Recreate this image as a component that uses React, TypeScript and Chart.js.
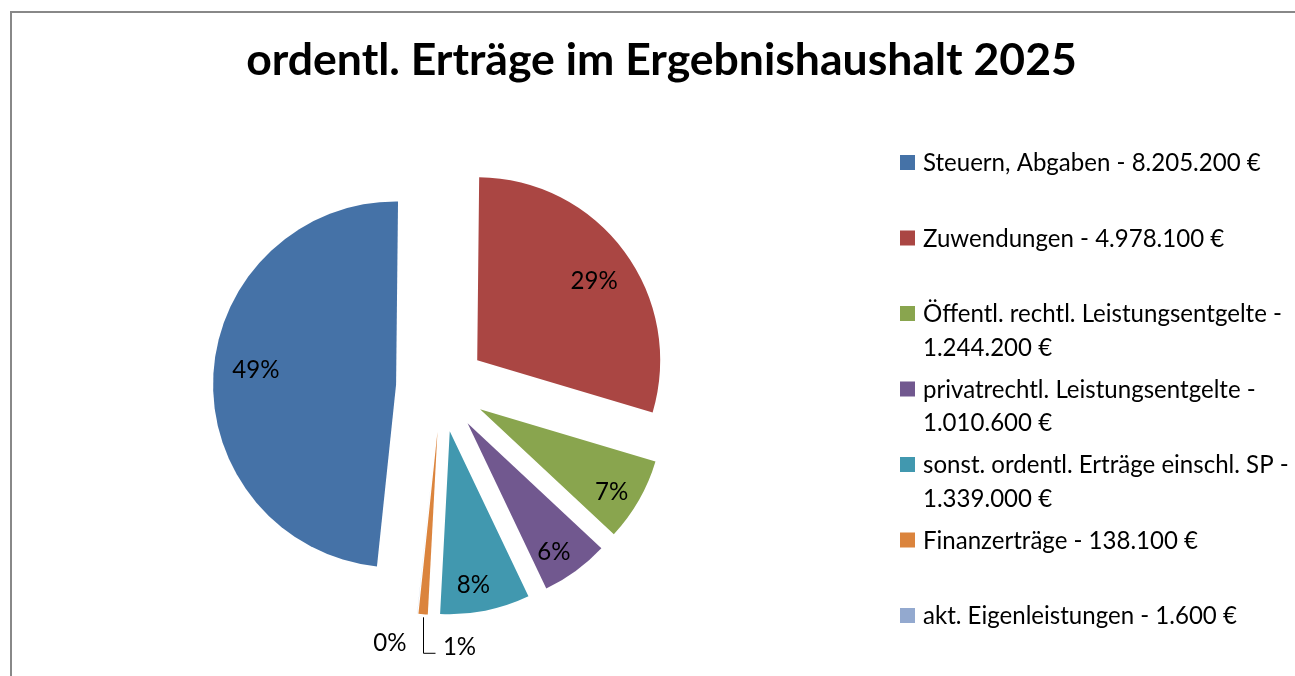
import React, { useEffect, useRef } from 'react';
import { Chart, registerables } from 'chart.js';

Chart.register(...registerables);

// ---------- data ----------
const TITLE = 'ordentl. Erträge im Ergebnishaushalt 2025';
const categories = [
  'Steuern, Abgaben',
  'Zuwendungen',
  'Öffentl. rechtl. Leistungsentgelte',
  'privatrechtl. Leistungsentgelte',
  'sonst. ordentl. Erträge einschl. SP',
  'Finanzerträge',
  'akt. Eigenleistungen',
];
const amounts = [8205200, 4978100, 1244200, 1010600, 1339000, 138100, 1600];
const colors = ['#4572A7', '#AA4643', '#89A54E', '#71588F', '#4198AF', '#DB843D', '#93A9CF'];

// ---------- style / layout ----------
const W = 1295;
const H = 676;
const FONT = 'Lato, "Open Sans", "Liberation Sans", sans-serif';
const RADIUS = 183;
const EXPLODE = 45;
const FIRST_SLICE_ANGLE = 186;
const LABEL_ROT = (2.5 * Math.PI) / 180;
const TITLE_X = 661.5;
const TITLE_BASE = 75;
const TITLE_WIDTH = 831;
const LEGEND_SWATCH_X = 900;
const LEGEND_TEXT_X = 923;
const LEGEND_FIRST_BASE = 171;
const LEGEND_PITCH = 75.5;
const LEGEND_LINE = 33.5;
const LEGEND_WRAP = 380;
const LEGEND_REF_WIDTH = 338;
// labels placed outside their slice (relative to the slice's outer midpoint)
const outsideLabels: Record<number, { dx: number; dy: number; align: CanvasTextAlign; leader?: boolean }> = {
  5: { dx: 20, dy: 30, align: 'left', leader: true },
  6: { dx: -27, dy: 26, align: 'center' },
};

function fmtEuro(v: number): string {
  return String(v).replace(/\B(?=(\d{3})+(?!\d))/g, '.') + ' €';
}

function fitSize(ctx: CanvasRenderingContext2D, text: string, weight: string, target: number): number {
  ctx.save();
  ctx.font = `${weight} 100px ${FONT}`;
  const w = ctx.measureText(text).width;
  ctx.restore();
  return (100 * target) / w;
}

const explodePlugin = {
  id: 'explodePie',
  beforeDatasetDraw(chart: any, args: any) {
    const ctx = chart.ctx as CanvasRenderingContext2D;
    const meta = args.meta;
    meta.data.forEach((arc: any) => {
      const { startAngle, endAngle } = arc.getProps(['startAngle', 'endAngle'], true);
      const mid = (startAngle + endAngle) / 2;
      ctx.save();
      ctx.translate(Math.cos(mid) * EXPLODE, Math.sin(mid) * EXPLODE);
      arc.draw(ctx);
      ctx.restore();
    });
    return false;
  },
};

const decorPlugin = {
  id: 'decor',
  afterDraw(chart: any) {
    const ctx = chart.ctx as CanvasRenderingContext2D;
    const meta = chart.getDatasetMeta(0);
    const values: number[] = chart.data.datasets[0].data;
    const total = values.reduce((a, b) => a + b, 0);
    const legendSize = fitSize(ctx, `${categories[0]} - ${fmtEuro(amounts[0])}`, '400', LEGEND_REF_WIDTH);

    // title
    ctx.save();
    const titleSize = fitSize(ctx, TITLE, '700', TITLE_WIDTH);
    ctx.font = `700 ${titleSize}px ${FONT}`;
    ctx.fillStyle = '#000';
    ctx.textAlign = 'center';
    ctx.textBaseline = 'alphabetic';
    ctx.fillText(TITLE, TITLE_X, TITLE_BASE);
    ctx.restore();

    // data labels
    ctx.save();
    ctx.font = `400 ${legendSize}px ${FONT}`;
    ctx.fillStyle = '#000';
    ctx.strokeStyle = '#000';
    ctx.lineWidth = 1;
    ctx.textBaseline = 'middle';
    meta.data.forEach((arc: any, i: number) => {
      const { x, y, startAngle, endAngle, outerRadius } = arc.getProps(
        ['x', 'y', 'startAngle', 'endAngle', 'outerRadius'],
        true
      );
      const mid = (startAngle + endAngle) / 2;
      const cx = x + Math.cos(mid) * EXPLODE;
      const cy = y + Math.sin(mid) * EXPLODE;
      const pct = Math.round((values[i] / total) * 100) + '%';
      const out = outsideLabels[i];
      if (out) {
        const ax = cx + Math.cos(mid) * (outerRadius + 3);
        const ay = cy + Math.sin(mid) * (outerRadius + 3);
        if (out.leader) {
          const lx = Math.round(ax) + 0.5;
          ctx.beginPath();
          ctx.moveTo(lx, ay);
          ctx.lineTo(lx, ay + 36);
          ctx.lineTo(lx + 12, ay + 36);
          ctx.stroke();
        }
        ctx.textAlign = out.align;
        ctx.fillText(pct, ax + out.dx, ay + out.dy);
      } else {
        const circ = endAngle - startAngle;
        const f = circ > Math.PI / 2 ? 0.77 : 0.85;
        const la = mid + LABEL_ROT;
        ctx.textAlign = 'center';
        ctx.fillText(pct, cx + Math.cos(la) * outerRadius * f, cy + Math.sin(la) * outerRadius * f);
      }
    });
    ctx.restore();

    // legend
    ctx.save();
    ctx.font = `400 ${legendSize}px ${FONT}`;
    ctx.textBaseline = 'alphabetic';
    ctx.textAlign = 'left';
    categories.forEach((name, i) => {
      const base = LEGEND_FIRST_BASE + i * LEGEND_PITCH;
      ctx.fillStyle = colors[i];
      ctx.fillRect(LEGEND_SWATCH_X, base - 16, 15, 15);
      ctx.fillStyle = '#000';
      const full = `${name} - ${fmtEuro(amounts[i])}`;
      let lines = [full];
      if (ctx.measureText(full).width > LEGEND_WRAP) {
        lines = [`${name} -`, fmtEuro(amounts[i])];
      }
      lines.forEach((ln, k) => ctx.fillText(ln, LEGEND_TEXT_X, base + k * LEGEND_LINE));
    });
    ctx.restore();
  },
};

export default function App() {
  const ref = useRef<HTMLCanvasElement | null>(null);

  useEffect(() => {
    if (!ref.current) return;
    const chart = new Chart(ref.current, {
      type: 'pie',
      data: {
        labels: categories,
        datasets: [
          {
            data: amounts,
            backgroundColor: colors,
            borderWidth: 0,
          },
        ],
      },
      options: {
        responsive: false,
        animation: false,
        radius: RADIUS,
        rotation: FIRST_SLICE_ANGLE,
        layout: { padding: { left: 100, right: 513, top: 100, bottom: 2 } },
        plugins: {
          legend: { display: false },
          title: { display: false },
          tooltip: { enabled: false },
        },
        events: [],
      } as any,
      plugins: [explodePlugin, decorPlugin],
    });
    return () => chart.destroy();
  }, []);

  return (
    <div
      style={{
        position: 'fixed',
        left: 0,
        top: 0,
        width: W,
        height: H,
        overflow: 'hidden',
        background: '#fff',
      }}
    >
      <div
        style={{
          position: 'absolute',
          left: 10,
          top: 11,
          width: 1400,
          height: 800,
          border: '2px solid #888888',
        }}
      />
      <canvas ref={ref} width={W} height={H} style={{ position: 'absolute', left: 0, top: 0 }} />
    </div>
  );
}
